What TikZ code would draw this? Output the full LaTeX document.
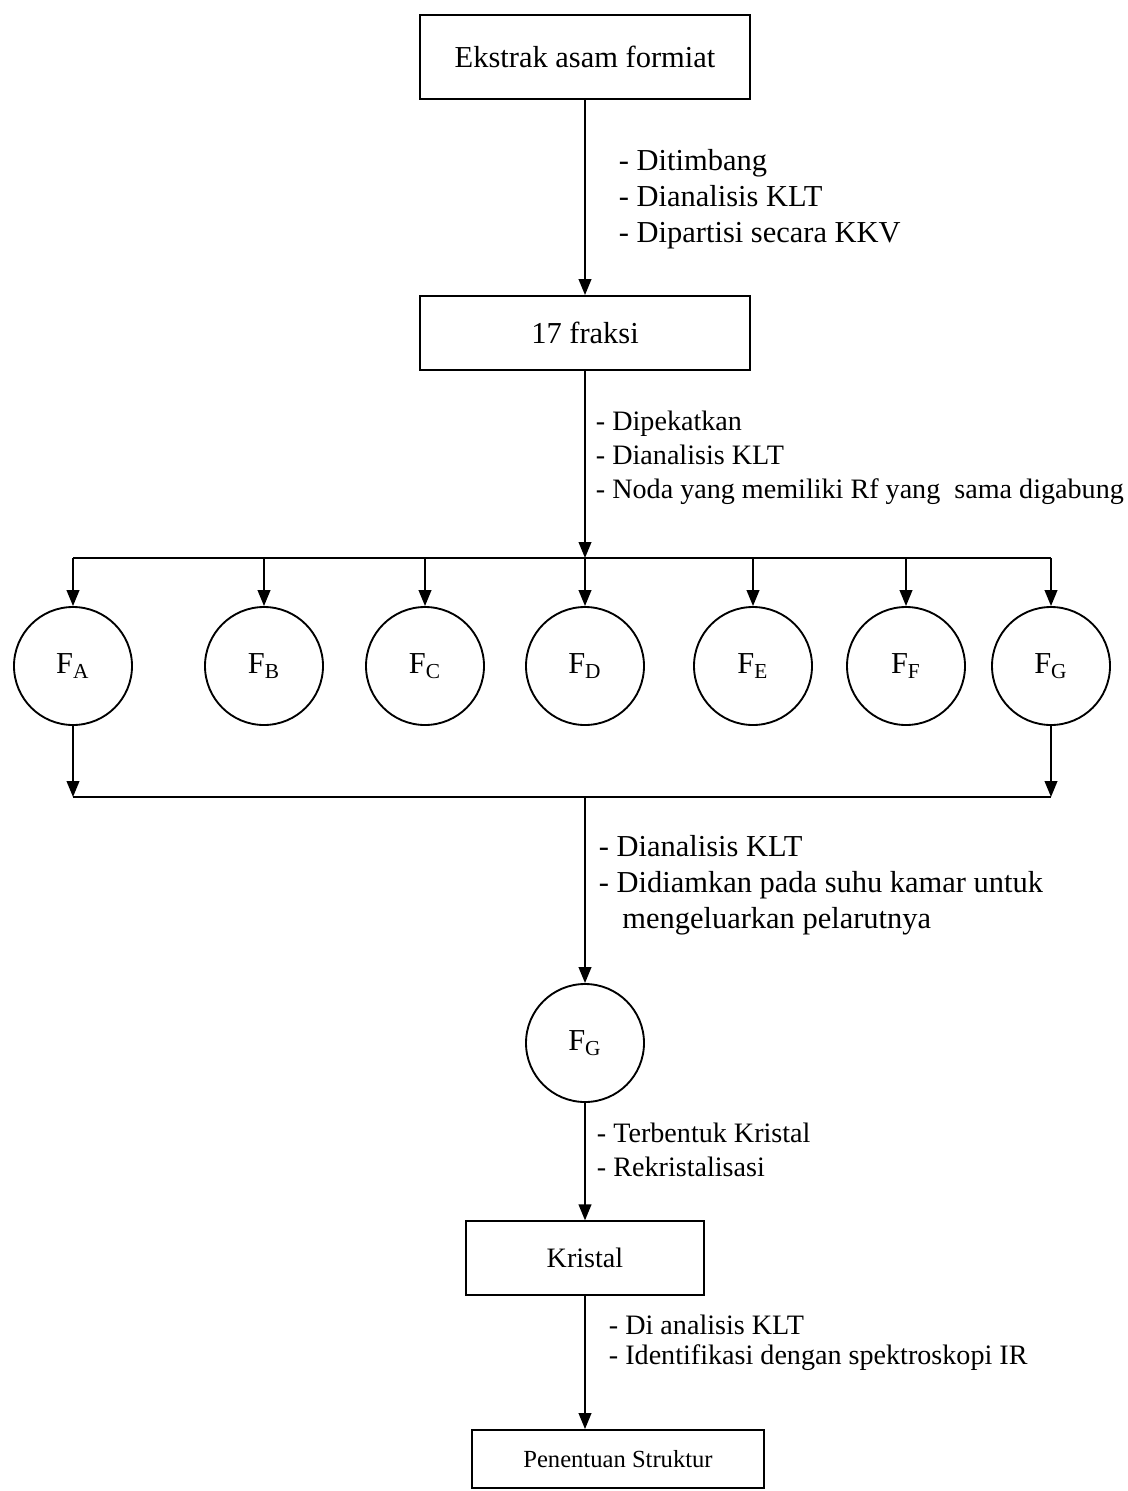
\documentclass[tikz,border=0pt]{standalone}
\usepackage{fontspec}
\setmainfont{Liberation Serif}
\usetikzlibrary{arrows.meta}

\tikzset{
  kotak/.style={draw, rectangle, thick, font=\fontsize{13}{15}\selectfont},
  bulat/.style={draw, circle, thick, minimum size=1.77cm, inner sep=0pt, font=\fontsize{13}{15}\selectfont},
  panah/.style={thick, -{Triangle[length=2.4mm,width=1.9mm]}},
  ket/.style={anchor=west, align=left, inner sep=0pt, font=\fontsize{12}{14.5}\selectfont},
  ketbesar/.style={ket, font=\fontsize{13}{15.3}\selectfont}
}

\begin{document}
\begin{tikzpicture}[x=0.015cm, y=-0.015cm, thick]
          \useasboundingbox (0,0) rectangle (1127,1491);
          % Draw top boxes
          \node[kotak, minimum width=4.95cm, minimum height=1.25cm] (ekstrak) at (585,57) {Ekstrak asam formiat};
          \node[kotak, minimum width=4.95cm, minimum height=1.11cm] (fraksi) at (585,333) {17 fraksi};
          \draw[panah] (ekstrak) -- (fraksi);
          \node[ketbesar] (ket1) at (618,199) {- Ditimbang\\- Dianalisis KLT\\- Dipartisi secara KKV};
          % Draw upper bus
          \coordinate (atas) at (585,558);
          \draw[panah] (fraksi) -- (atas);
          \node[ket] (ket2) at (595,458) {- Dipekatkan\\- Dianalisis KLT\\- Noda yang memiliki Rf yang\ \ sama digabung};
          % Draw fraction circles
          \foreach \n/\x/\h in {a/73/A, b/264/B, c/425/C, d/585/D, e/753/E, f/906/F, g/1051/G}{
            \node[bulat] (f\n) at (\x,666) {F\textsubscript{\h}};
            \draw[panah] (f\n |- atas) -- (f\n);
          }
          \draw (fa |- atas) -- (fg |- atas);
          % Draw lower bus
          \coordinate (bawah) at (585,797);
          \draw (fa |- bawah) -- (fg |- bawah);
          \draw[panah] (fa) -- (fa |- bawah);
          \draw[panah] (fg) -- (fg |- bawah);
          % Draw selected fraction
          \node[bulat] (fg2) at (585,1043) {F\textsubscript{G}};
          \draw[panah] (bawah) -- (fg2);
          \node[ketbesar] (ket3) at (598,885) {- Dianalisis KLT\\- Didiamkan pada suhu kamar untuk\\\hspace*{10pt}mengeluarkan pelarutnya};
          % Draw bottom boxes
          \node[kotak, minimum width=3.57cm, minimum height=1.1cm, font=\fontsize{12}{14}\selectfont] (kristal) at (585,1258) {Kristal};
          \draw[panah] (fg2) -- (kristal);
          \node[ket] (ket4) at (596,1150) {- Terbentuk Kristal\\- Rekristalisasi};
          \node[kotak, minimum width=4.37cm, minimum height=0.87cm, font=\fontsize{10.5}{12}\selectfont] (struktur) at (618,1459) {Penentuan Struktur};
          \draw[panah] (kristal) -- (kristal |- struktur.north);
          \node[ket, font=\fontsize{12}{13}\selectfont] (ket5) at (608,1343) {- Di analisis KLT\\- Identifikasi dengan spektroskopi IR};
        \end{tikzpicture}
\end{document}
